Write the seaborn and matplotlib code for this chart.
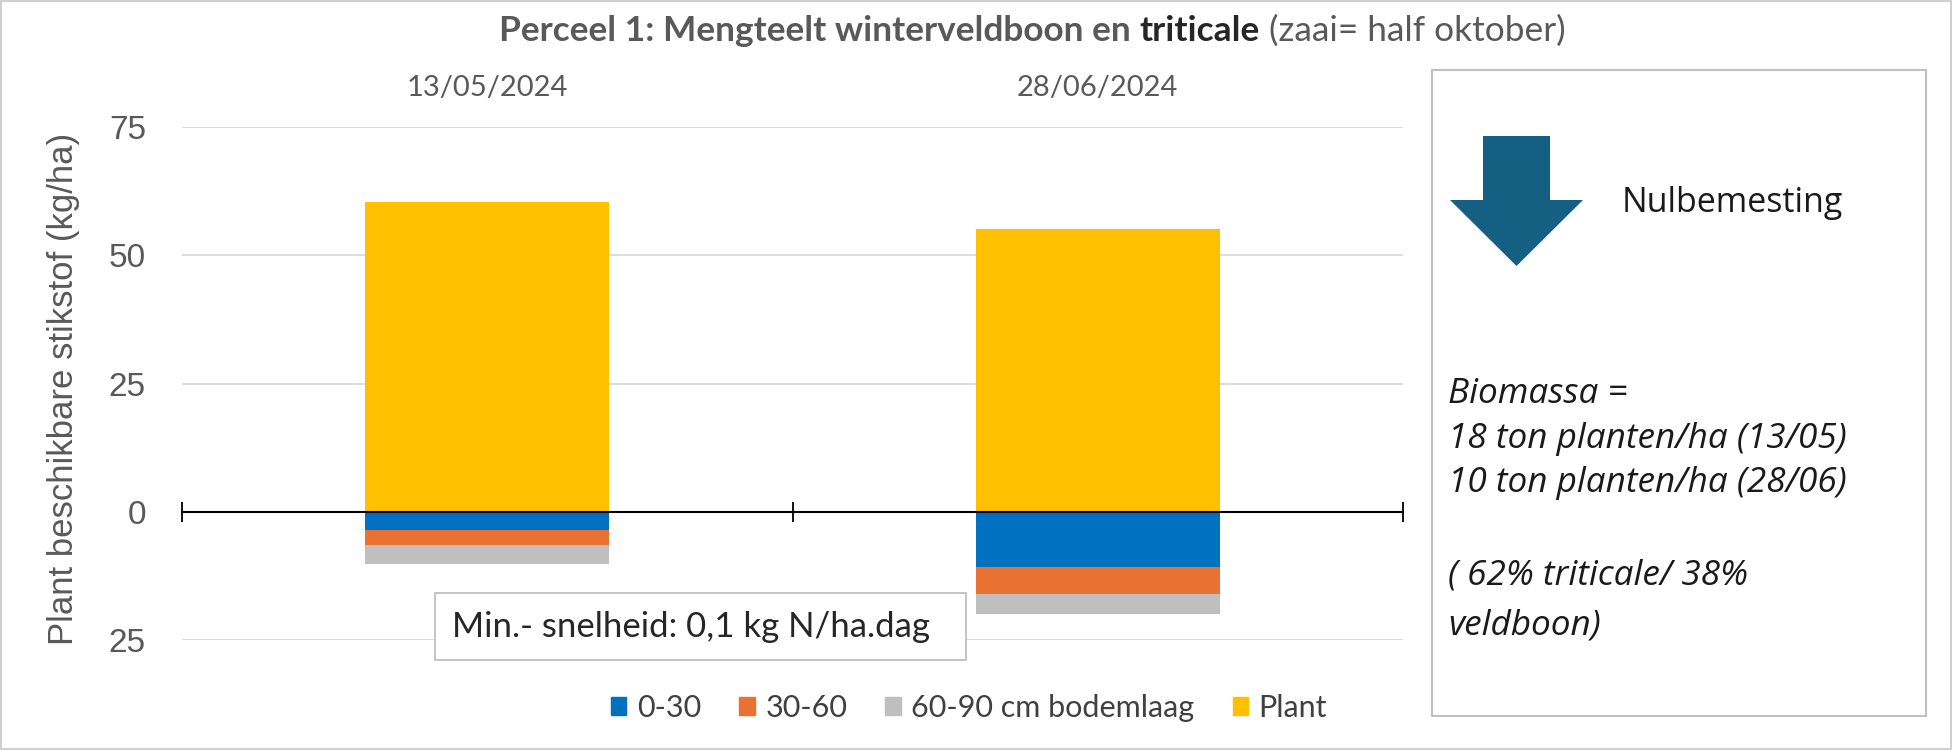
import matplotlib
matplotlib.use("Agg")
import matplotlib.pyplot as plt
import matplotlib.patches as mpatches
import seaborn as sns
import pandas as pd
import numpy as np

# data
dates = ["13/05/2024", "28/06/2024"]
plant = [60.3, 55.1]
layer_0_30 = [3.5, 10.8]
layer_30_60 = [2.9, 5.3]
layer_60_90 = [3.8, 3.8]
legend_names = ["0-30", "30-60", "60-90 cm bodemlaag", "Plant"]
y_ticks = [-25, 0, 25, 50, 75]
y_ticklabels = ["25", "0", "25", "50", "75"]

colors = ["#0070C0", "#E97132", "#BFBFBF", "#FFC000"]
grey_txt = "#595959"
narrow = ["Lato", "DejaVu Sans"]

sns.set_style("white")
plt.rcParams["font.family"] = ["Liberation Sans", "DejaVu Sans"]

W, H = 1952, 750
fig = plt.figure(figsize=(W / 100, H / 100), dpi=100)


def fx(x):
    return x / W


def fy(y):
    return 1 - y / H


ax = fig.add_axes([fx(182), fy(640), fx(1403) - fx(182), fy(127) - fy(640)])

df = pd.DataFrame({"datum": dates, "plant": plant})
df["d1"] = -np.array(layer_0_30)
df["d2"] = df["d1"] - np.array(layer_30_60)
df["d3"] = df["d2"] - np.array(layer_60_90)

# soil layers stacked downwards: draw deepest cumulative first
for col, c in [("d3", colors[2]), ("d2", colors[1]), ("d1", colors[0]), ("plant", colors[3])]:
    sns.barplot(data=df, x="datum", y=col, order=dates, color=c, width=0.4,
                saturation=1, ax=ax, linewidth=0, errorbar=None)

ax.set_xlim(-0.5, 1.5)
ax.set_ylim(-25, 75)
ax.set_axisbelow(True)
ax.yaxis.grid(True, color="#D9D9D9", lw=1.3)
for s in ["top", "left", "right"]:
    ax.spines[s].set_visible(False)
ax.spines["bottom"].set_position(("data", 0))
ax.spines["bottom"].set_color("black")
ax.spines["bottom"].set_linewidth(1.5)

ax.set_xticks([-0.5, 0.5, 1.5], labels=["", "", ""])
ax.set_xticks([0, 1], labels=dates, minor=True)
ax.tick_params(axis="x", which="major", direction="inout", length=14, width=1.3,
               color="black", bottom=True, labelbottom=False)
ax.tick_params(axis="x", which="minor", length=0, bottom=False, top=True,
               labelbottom=False, labeltop=True, pad=19, labelsize=21, labelcolor=grey_txt)
for t in ax.get_xticklabels(minor=True):
    t.set_family(narrow)
ax.set_xlabel("")

ax.set_yticks(y_ticks, labels=y_ticklabels)
ax.tick_params(axis="y", length=0, pad=26, labelsize=24, labelcolor=grey_txt)
ax.set_ylabel("Plant beschikbare stikstof (kg/ha)", fontsize=25, color=grey_txt)
ax.yaxis.set_label_coords(-0.0835, 0.49)

# title with mixed styles
renderer = fig.canvas.get_renderer()
parts = [("Perceel 1: Mengteelt winterveldboon en ", "bold", grey_txt),
         ("triticale", "bold", "#262626"),
         (" (zaai= half oktober)", "normal", grey_txt)]
texts = []
for s, w, c in parts:
    texts.append(fig.text(0, fy(31), s, fontsize=25.4, fontweight=w, color=c,
                          family=narrow, va="center", ha="left"))
widths = [t.get_window_extent(renderer).width for t in texts]
x0 = (495 + 1569) / 2 - sum(widths) / 2
for t, w in zip(texts, widths):
    t.set_x(fx(x0))
    x0 += w

# legend
handles = [mpatches.Patch(color=c, label=n) for c, n in zip(colors, legend_names)]
fig.legend(handles=handles, loc="center", bbox_to_anchor=(fx(969), fy(708)), ncol=4,
           frameon=False, handlelength=0.5, handleheight=0.5, handletextpad=0.35,
           columnspacing=1.25, prop={"family": narrow, "size": 22},
           labelcolor="#404040")

# mineralisation text box
fig.patches.append(mpatches.Rectangle((fx(435), fy(660)), fx(966) - fx(435), fy(593) - fy(660),
                                      transform=fig.transFigure, fc="white", ec="#BFBFBF", lw=1.3, zorder=3))
fig.text(fx(452), fy(627), "Min.- snelheid: 0,1 kg N/ha.dag", fontsize=25, color="#262626",
         family=narrow, va="center", ha="left", zorder=4)

# right side info box
fig.patches.append(mpatches.Rectangle((fx(1432), fy(716)), fx(1926) - fx(1432), fy(70) - fy(716),
                                      transform=fig.transFigure, fc="white", ec="#BFBFBF", lw=1.5, zorder=3))
arrow = [(1483, 136), (1550, 136), (1550, 200), (1583, 200), (1516.5, 266),
         (1450, 200), (1483, 200)]
fig.patches.append(mpatches.Polygon([(fx(x), fy(y)) for x, y in arrow], closed=True,
                                    transform=fig.transFigure, fc="#156082", ec="none", zorder=4))
fig.text(fx(1622), fy(203), "Nulbemesting", fontsize=24.5, color="#1a1a1a",
         family=["Open Sans", "DejaVu Sans"], va="center", ha="left", zorder=4)
info = [("Biomassa =", 394), ("18 ton planten/ha (13/05)", 439), ("10 ton planten/ha (28/06)", 483),
        ("( 62% triticale/ 38%", 576), ("veldboon)", 626)]
for s, y in info:
    fig.text(fx(1448), fy(y), s, fontsize=25.3, style="italic", color="#1a1a1a",
             family=["Open Sans", "DejaVu Sans"], va="center", ha="left", zorder=4)

# outer frame
fig.patches.append(mpatches.Rectangle((0, 0), 1, 1, transform=fig.transFigure, fill=False,
                                      ec="#D0D0D0", lw=3, zorder=5))

fig.savefig("out.png", dpi=100)
